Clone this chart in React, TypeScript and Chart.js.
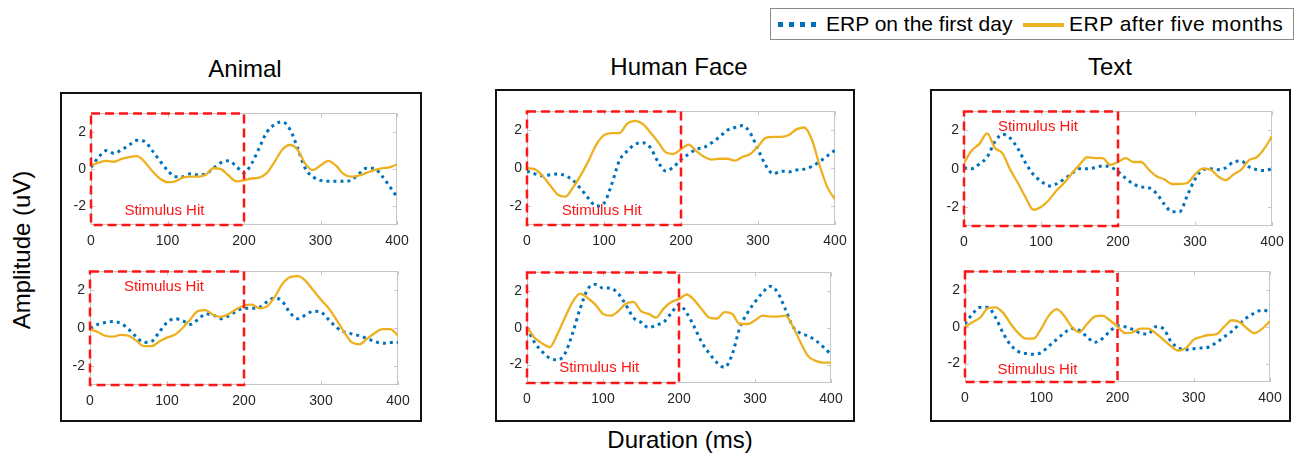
import React, { useEffect, useRef } from "react";
import { Chart, registerables } from "chart.js";
Chart.register(...registerables);

const FONT = '"Liberation Sans", Arial, Helvetica, sans-serif';

// x values (ms)
const DURATION_MS = [0, 10, 20, 30, 40, 50, 60, 70, 80, 90, 100, 110, 120, 130, 140, 150, 160, 170, 180, 190, 200, 210, 220, 230, 240, 250, 260, 270, 280, 290, 300, 310, 320, 330, 340, 350, 360, 370, 380, 390, 400];
const X_TICKS = [0, 100, 200, 300, 400];
const Y_TICKS = [-2, 0, 2];
const CATEGORIES = ["Animal", "Human Face", "Text"];
const SERIES_NAMES = ["ERP on the first day", "ERP after five months"];

// Animal
const ANIMAL_TOP_FIRST_DAY = [0.1, 0.65, 1.0, 0.85, 1.05, 1.3, 1.55, 1.5, 1.0, 0.45, -0.05, -0.4, -0.4, -0.25, -0.3, -0.25, 0.05, 0.35, 0.45, 0.15, -0.2, 0.3, 1.15, 2.0, 2.4, 2.55, 2.15, 1.15, 0.05, -0.4, -0.6, -0.65, -0.65, -0.65, -0.6, -0.25, 0.05, 0.05, -0.35, -0.9, -1.5];
const ANIMAL_TOP_FIVE_MONTHS = [0.2, 0.35, 0.45, 0.4, 0.55, 0.65, 0.7, 0.4, -0.1, -0.5, -0.7, -0.65, -0.45, -0.4, -0.4, -0.3, 0.05, 0.0, -0.35, -0.65, -0.6, -0.5, -0.45, -0.2, 0.4, 1.05, 1.3, 1.05, 0.3, -0.05, 0.2, 0.45, 0.2, -0.25, -0.4, -0.35, -0.2, -0.05, 0.05, 0.1, 0.25];
const ANIMAL_BOTTOM_FIRST_DAY = [0.0, 0.2, 0.3, 0.35, 0.25, -0.05, -0.45, -0.75, -0.7, -0.2, 0.3, 0.5, 0.4, 0.2, 0.45, 0.75, 0.7, 0.5, 0.65, 0.9, 1.05, 1.05, 1.1, 1.4, 1.6, 1.4, 0.8, 0.5, 0.7, 0.9, 0.85, 0.45, 0.05, -0.2, -0.3, -0.4, -0.55, -0.7, -0.8, -0.75, -0.75];
const ANIMAL_BOTTOM_FIVE_MONTHS = [-0.05, -0.2, -0.4, -0.45, -0.35, -0.4, -0.65, -0.95, -0.95, -0.7, -0.5, -0.35, 0.0, 0.45, 0.9, 0.95, 0.7, 0.6, 0.75, 1.0, 1.2, 1.25, 1.05, 1.15, 1.65, 2.35, 2.7, 2.75, 2.5, 2.0, 1.5, 1.05, 0.45, -0.2, -0.75, -0.85, -0.55, -0.25, -0.05, -0.05, -0.4];

// Human Face
const FACE_TOP_FIRST_DAY = [-0.15, -0.3, -0.4, -0.35, -0.3, -0.4, -0.65, -1.1, -1.6, -2.0, -1.85, -0.85, 0.4, 0.9, 1.25, 1.35, 1.1, 0.35, -0.15, 0.05, 0.45, 0.75, 1.0, 1.1, 1.35, 1.65, 2.0, 2.15, 2.25, 1.85, 1.0, 0.15, -0.3, -0.15, -0.2, -0.1, -0.05, 0.1, 0.35, 0.65, 0.95];
const FACE_TOP_FIVE_MONTHS = [0.0, -0.05, -0.4, -0.9, -1.4, -1.5, -1.0, -0.35, 0.4, 1.25, 1.75, 1.85, 1.85, 2.35, 2.5, 2.35, 1.9, 1.4, 0.85, 0.75, 1.0, 1.25, 0.9, 0.6, 0.45, 0.5, 0.5, 0.4, 0.6, 0.75, 1.15, 1.6, 1.65, 1.65, 1.75, 2.05, 2.15, 1.5, 0.15, -1.0, -1.65];
const FACE_BOTTOM_FIRST_DAY = [0.0, -0.8, -1.3, -1.65, -1.75, -1.4, -0.3, 1.05, 2.1, 2.35, 2.15, 2.15, 1.85, 1.25, 0.55, 0.3, 0.0, 0.15, 0.3, 0.8, 1.25, 0.8, 0.05, -0.8, -1.4, -1.9, -2.15, -1.45, 0.0, 0.8, 1.4, 1.9, 2.25, 1.9, 1.0, 0.05, -0.3, -0.45, -0.7, -1.05, -1.45];
const FACE_BOTTOM_FIVE_MONTHS = [0.05, -0.55, -0.85, -1.05, -0.35, 0.55, 1.4, 1.85, 1.6, 1.25, 0.75, 0.65, 0.9, 1.3, 1.4, 0.9, 0.75, 0.55, 1.05, 1.4, 1.55, 1.8, 1.5, 1.0, 0.55, 0.5, 0.85, 0.75, 0.2, 0.2, 0.4, 0.65, 0.6, 0.6, 0.65, 0.05, -0.8, -1.55, -1.8, -1.9, -1.9];

// Text
const TEXT_TOP_FIRST_DAY = [0.05, 0.0, 0.25, 0.6, 1.4, 1.8, 1.6, 1.05, 0.3, -0.3, -0.65, -0.9, -0.8, -0.55, -0.25, 0.0, 0.0, 0.05, 0.15, 0.1, -0.15, -0.5, -0.8, -0.95, -1.0, -1.3, -1.85, -2.25, -2.25, -1.4, -0.55, -0.05, 0.0, -0.05, 0.05, 0.35, 0.4, 0.1, -0.05, -0.1, 0.0];
const TEXT_TOP_FIVE_MONTHS = [0.3, 0.95, 1.3, 1.85, 1.1, 0.8, -0.05, -0.75, -1.5, -2.15, -2.0, -1.65, -1.15, -0.75, -0.25, 0.2, 0.6, 0.55, 0.55, 0.2, 0.35, 0.55, 0.35, 0.35, -0.05, -0.4, -0.55, -0.8, -0.8, -0.75, -0.3, 0.0, -0.05, -0.4, -0.6, -0.3, -0.05, 0.45, 0.6, 1.05, 1.7];
const TEXT_BOTTOM_FIRST_DAY = [0.15, 0.7, 1.05, 1.05, 0.5, -0.35, -1.0, -1.35, -1.45, -1.5, -1.4, -1.05, -0.7, -0.35, -0.1, -0.2, -0.55, -0.85, -0.65, -0.25, 0.05, 0.0, -0.15, -0.35, -0.4, 0.0, -0.1, -0.8, -1.15, -1.25, -1.2, -1.15, -1.1, -0.85, -0.55, -0.25, 0.15, 0.5, 0.75, 0.9, 0.8];
const TEXT_BOTTOM_FIVE_MONTHS = [0.0, 0.25, 0.5, 1.0, 1.05, 0.75, 0.15, -0.35, -0.65, -0.65, -0.1, 0.6, 0.95, 0.6, 0.0, -0.3, 0.15, 0.55, 0.6, 0.35, 0.0, -0.35, -0.3, -0.1, -0.1, -0.35, -0.7, -1.05, -1.3, -1.15, -0.7, -0.55, -0.45, -0.4, 0.0, 0.35, 0.25, -0.1, -0.35, -0.1, 0.3];

// stimulus window (ms) and y extent
const STIMULUS_WINDOW = [0, 200];
const Y_RANGE = [-3, 3];

const BLUE = "#0072BD";
const GOLD = "#EDB120";
const RED = "#ff1414";

const AY_W = 40;
const PAD_T = 8;
const PAD_R = 22;
const AX_H = 28;

type PanelDef = {
  rect: [number, number, number, number];
  first: number[];
  after: number[];
  label: [number, number];
};

const PANELS: PanelDef[] = [
  { rect: [91, 108, 397, 225], first: ANIMAL_TOP_FIRST_DAY, after: ANIMAL_TOP_FIVE_MONTHS, label: [96, -2.25] },
  { rect: [90, 266, 398, 385], first: ANIMAL_BOTTOM_FIRST_DAY, after: ANIMAL_BOTTOM_FIVE_MONTHS, label: [96, 2.2] },
  { rect: [527, 106, 835, 225], first: FACE_TOP_FIRST_DAY, after: FACE_TOP_FIVE_MONTHS, label: [97, -2.25] },
  { rect: [527, 267, 831, 383], first: FACE_BOTTOM_FIRST_DAY, after: FACE_BOTTOM_FIVE_MONTHS, label: [95, -2.2] },
  { rect: [964, 106, 1272, 226], first: TEXT_TOP_FIRST_DAY, after: TEXT_TOP_FIVE_MONTHS, label: [96, 2.2] },
  { rect: [965, 266, 1270, 382], first: TEXT_BOTTOM_FIRST_DAY, after: TEXT_BOTTOM_FIVE_MONTHS, label: [95, -2.35] },
];

const framePlugin = {
  id: "matlabFrame",
  beforeDatasetsDraw(chart: any) {
    const { ctx, chartArea, scales } = chart;
    const { left, top, right, bottom } = chartArea;
    ctx.save();
    ctx.strokeStyle = "#c6c6c6";
    ctx.lineWidth = 1;
    ctx.strokeRect(Math.round(left) + 0.5, Math.round(top) + 0.5, Math.round(right - left) - 1, Math.round(bottom - top) - 1);
    ctx.beginPath();
    X_TICKS.forEach((v) => {
      const px = Math.round(scales.x.getPixelForValue(v)) + 0.5;
      ctx.moveTo(px, bottom);
      ctx.lineTo(px, bottom - 4);
      ctx.moveTo(px, top);
      ctx.lineTo(px, top + 4);
    });
    Y_TICKS.forEach((v) => {
      const py = Math.round(scales.y.getPixelForValue(v)) + 0.5;
      ctx.moveTo(left, py);
      ctx.lineTo(left + 4, py);
      ctx.moveTo(right, py);
      ctx.lineTo(right - 4, py);
    });
    ctx.stroke();
    ctx.restore();
  },
};

function makeStimulusPlugin(label: [number, number]) {
  return {
    id: "stimulus",
    afterDatasetsDraw(chart: any) {
      const { ctx, scales } = chart;
      const x0 = scales.x.getPixelForValue(STIMULUS_WINDOW[0]);
      const x1 = scales.x.getPixelForValue(STIMULUS_WINDOW[1]);
      const y0 = scales.y.getPixelForValue(Y_RANGE[1]);
      const y1 = scales.y.getPixelForValue(Y_RANGE[0]);
      ctx.save();
      ctx.strokeStyle = RED;
      ctx.lineWidth = 2.5;
      ctx.setLineDash([9, 5]);
      ctx.strokeRect(x0, y0, x1 - x0, y1 - y0);
      ctx.setLineDash([]);
      ctx.fillStyle = RED;
      ctx.font = `15px ${FONT}`;
      ctx.textAlign = "center";
      ctx.textBaseline = "middle";
      ctx.fillText("Stimulus Hit", scales.x.getPixelForValue(label[0]), scales.y.getPixelForValue(label[1]));
      ctx.restore();
    },
  };
}

function Panel({ def }: { def: PanelDef }) {
  const ref = useRef<HTMLCanvasElement>(null);
  const [L, T, R, B] = def.rect;
  const w = R - L + AY_W + PAD_R;
  const h = B - T + PAD_T + AX_H;
  useEffect(() => {
    if (!ref.current) return;
    const chart = new Chart(ref.current, {
      type: "line",
      data: {
        datasets: [
          {
            label: SERIES_NAMES[1],
            data: DURATION_MS.map((x, i) => ({ x, y: def.after[i] })),
            borderColor: GOLD,
            borderWidth: 2.3,
            pointRadius: 0,
            cubicInterpolationMode: "monotone",
            fill: false,
          },
          {
            label: SERIES_NAMES[0],
            data: DURATION_MS.map((x, i) => ({ x, y: def.first[i] })),
            borderColor: BLUE,
            borderWidth: 3,
            borderDash: [3, 4],
            borderCapStyle: "butt",
            pointRadius: 0,
            cubicInterpolationMode: "monotone",
            fill: false,
          },
        ],
      },
      options: {
        responsive: false,
        maintainAspectRatio: false,
        animation: false,
        layout: { padding: { left: 0, top: PAD_T, right: PAD_R, bottom: 0 } },
        plugins: { legend: { display: false }, tooltip: { enabled: false } },
        scales: {
          x: {
            type: "linear",
            min: 0,
            max: 400,
            afterBuildTicks: (s: any) => {
              s.ticks = X_TICKS.map((v) => ({ value: v }));
            },
            afterFit: (s: any) => {
              s.height = AX_H;
            },
            ticks: { padding: 8, color: "#262626", font: { size: 14, family: FONT }, maxRotation: 0, autoSkip: false },
            grid: { display: false, drawTicks: false },
            border: { display: false },
          },
          y: {
            type: "linear",
            min: Y_RANGE[0],
            max: Y_RANGE[1],
            afterBuildTicks: (s: any) => {
              s.ticks = Y_TICKS.map((v) => ({ value: v }));
            },
            afterFit: (s: any) => {
              s.width = AY_W;
            },
            ticks: { padding: 5, color: "#262626", font: { size: 14, family: FONT } },
            grid: { display: false, drawTicks: false },
            border: { display: false },
          },
        },
      } as any,
      plugins: [framePlugin, makeStimulusPlugin(def.label)],
    });
    return () => chart.destroy();
  }, []);
  return (
    <canvas
      ref={ref}
      width={w}
      height={h}
      style={{ position: "absolute", left: L - AY_W, top: T - PAD_T, width: w, height: h }}
    />
  );
}

const BOXES: [number, number, number, number][] = [
  [60, 92, 422, 422],
  [495, 89, 855, 422],
  [930, 89, 1291, 422],
];
const TITLE_POS: [number, number][] = [
  [245, 69],
  [679, 67],
  [1110, 67],
];

export default function App() {
  return (
    <div
      style={{
        position: "absolute",
        left: 0,
        top: 0,
        width: 1301,
        height: 459,
        background: "#fff",
        overflow: "hidden",
        fontFamily: FONT,
      }}
    >
      {BOXES.map(([l, t, r, b], i) => (
        <div
          key={"box" + i}
          style={{
            position: "absolute",
            left: l,
            top: t,
            width: r - l,
            height: b - t,
            border: "2px solid #111",
            boxSizing: "border-box",
          }}
        />
      ))}
      {CATEGORIES.map((c, i) => (
        <div
          key={"t" + i}
          style={{
            position: "absolute",
            left: TITLE_POS[i][0],
            top: TITLE_POS[i][1],
            transform: "translate(-50%, -50%)",
            fontSize: 24,
            color: "#000",
            whiteSpace: "nowrap",
          }}
        >
          {c}
        </div>
      ))}
      {PANELS.map((p, i) => (
        <Panel key={"p" + i} def={p} />
      ))}
      <div
        style={{
          position: "absolute",
          left: 22,
          top: 250,
          transform: "translate(-50%, -50%) rotate(-90deg)",
          fontSize: 24,
          whiteSpace: "nowrap",
        }}
      >
        Amplitude (uV)
      </div>
      <div
        style={{
          position: "absolute",
          left: 680,
          top: 440,
          transform: "translate(-50%, -50%)",
          fontSize: 24,
          whiteSpace: "nowrap",
        }}
      >
        Duration (ms)
      </div>
      {/* legend */}
      <div
        style={{
          position: "absolute",
          left: 770,
          top: 8,
          width: 524,
          height: 32,
          border: "1px solid #8a8a8a",
          boxSizing: "border-box",
          background: "#fff",
        }}
      >
        {[0, 1, 2, 3].map((k) => (
          <div
            key={"d" + k}
            style={{ position: "absolute", left: 7 + k * 11, top: 13, width: 5, height: 5, background: BLUE }}
          />
        ))}
        <div style={{ position: "absolute", left: 55, top: 15, transform: "translateY(-50%)", fontSize: 21, whiteSpace: "nowrap", color: "#000" }}>
          {SERIES_NAMES[0]}
        </div>
        <div style={{ position: "absolute", left: 252, top: 14, width: 41, height: 4, background: GOLD }} />
        <div style={{ position: "absolute", left: 298, top: 15, transform: "translateY(-50%)", fontSize: 21, letterSpacing: 0.5, whiteSpace: "nowrap", color: "#000" }}>
          {SERIES_NAMES[1]}
        </div>
      </div>
    </div>
  );
}
